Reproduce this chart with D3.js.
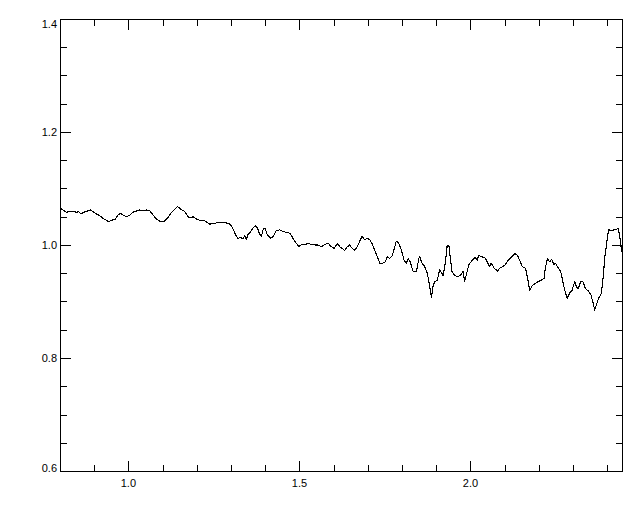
<!DOCTYPE html>
<html>
<head>
<meta charset="utf-8">
<script src="https://cdn.jsdelivr.net/npm/d3@7"></script>
<style>
  html, body { margin: 0; padding: 0; background: #fff; }
  svg { display: block; }
  text { font-family: "Liberation Sans", Arial, sans-serif; font-size: 11px; fill: #000; }
</style>
</head>
<body>
<script>
// ---- data ----
const xValues = [
  0.802,0.809,0.818,0.828,0.838,0.848,0.855,0.862,0.870,0.880,0.889,0.896,0.906,0.916,0.926,0.935,0.942,0.952,0.962,0.970,
  0.977,0.984,0.994,1.004,1.013,1.023,1.033,1.043,1.052,1.062,1.072,1.082,1.092,1.104,1.114,1.124,1.133,1.143,1.150,1.157,
  1.165,1.172,1.179,1.189,1.199,1.208,1.218,1.228,1.238,1.247,1.257,1.272,1.286,1.296,1.303,1.309,1.316,1.320,1.328,1.335,
  1.340,1.345,1.350,1.358,1.364,1.371,1.377,1.384,1.389,1.394,1.399,1.406,1.416,1.423,1.432,1.442,1.452,1.462,1.472,1.481,
  1.491,1.498,1.506,1.516,1.525,1.535,1.545,1.554,1.564,1.574,1.584,1.593,1.601,1.611,1.618,1.625,1.632,1.640,1.647,1.654,
  1.662,1.669,1.676,1.683,1.691,1.699,1.706,1.712,1.720,1.728,1.735,1.744,1.751,1.757,1.764,1.771,1.779,1.783,1.790,1.798,
  1.806,1.813,1.818,1.824,1.832,1.842,1.849,1.852,1.858,1.866,1.874,1.881,1.886,1.891,1.896,1.903,1.910,1.920,1.927,1.932,
  1.937,1.940,1.946,1.954,1.964,1.973,1.978,1.983,1.988,1.995,2.005,2.013,2.020,2.024,2.032,2.042,2.049,2.056,2.061,2.069,
  2.079,2.086,2.095,2.102,2.110,2.120,2.130,2.137,2.144,2.151,2.161,2.168,2.173,2.180,2.190,2.198,2.207,2.215,2.219,2.225,
  2.232,2.237,2.244,2.248,2.256,2.264,2.271,2.277,2.283,2.290,2.297,2.305,2.310,2.315,2.323,2.329,2.336,2.344,2.352,2.358,
  2.363,2.368,2.375,2.383,2.388,2.393,2.400,2.404,2.412,2.420,2.427,2.432,2.437,2.442
];
const yValues = [
  1.065,1.062,1.058,1.059,1.060,1.058,1.059,1.055,1.058,1.060,1.062,1.059,1.055,1.052,1.047,1.044,1.041,1.044,1.046,1.053,
  1.056,1.053,1.050,1.053,1.058,1.060,1.062,1.061,1.062,1.061,1.053,1.046,1.042,1.042,1.047,1.056,1.062,1.068,1.065,1.062,
  1.059,1.052,1.048,1.050,1.046,1.044,1.044,1.041,1.037,1.038,1.039,1.040,1.039,1.037,1.032,1.024,1.015,1.012,1.013,1.011,
  1.016,1.010,1.019,1.024,1.030,1.034,1.030,1.019,1.016,1.028,1.030,1.018,1.012,1.015,1.025,1.027,1.024,1.022,1.021,1.012,
  1.003,0.997,1.001,1.000,1.003,1.001,1.000,1.000,0.997,1.001,1.003,0.997,0.994,1.002,0.997,0.994,0.990,0.997,1.000,0.994,
  0.991,0.997,1.006,1.016,1.009,1.012,1.009,1.003,0.991,0.979,0.968,0.968,0.970,0.979,0.976,0.981,0.997,1.007,1.003,0.991,
  0.973,0.968,0.976,0.970,0.954,0.953,0.976,0.979,0.968,0.962,0.950,0.926,0.907,0.929,0.935,0.938,0.956,0.946,0.970,1.000,
  0.999,0.982,0.953,0.946,0.944,0.948,0.954,0.936,0.947,0.965,0.973,0.978,0.973,0.982,0.979,0.978,0.970,0.962,0.968,0.959,
  0.954,0.959,0.962,0.965,0.973,0.979,0.985,0.982,0.973,0.962,0.959,0.938,0.919,0.928,0.932,0.935,0.938,0.941,0.960,0.976,
  0.970,0.975,0.965,0.968,0.960,0.953,0.932,0.917,0.906,0.915,0.920,0.935,0.926,0.923,0.936,0.935,0.923,0.919,0.912,0.899,
  0.885,0.894,0.906,0.915,0.944,0.979,1.012,1.027,1.025,1.027,1.028,1.030,1.013,0.987
];
const xDomain = [0.8, 2.443];
const yDomain = [0.6, 1.4];
const xMajorTicks = [1.0, 1.5, 2.0];
const xTickLabels = ["1.0", "1.5", "2.0"];
const yMajorTicks = [0.6, 0.8, 1.0, 1.2, 1.4];
const yTickLabels = ["0.6", "0.8", "1.0", "1.2", "1.4"];
const xMinorStep = 0.1;
const yMinorStep = 0.05;

(function () {
  // ---- layout ----
  const W = 640, H = 512;
  const mLeft = 60, mRight = 622, mTop = 19, mBottom = 471;
  const majorLen = 10, minorLen = 6;

  const svg = d3.select("body").append("svg").attr("width", W).attr("height", H);

  const x = d3.scaleLinear().domain(xDomain).range([mLeft, mRight]);
  const y = d3.scaleLinear().domain(yDomain).range([mBottom, mTop]);

  const round = v => Math.round(v * 1000) / 1000;
  const xMinor = d3.range(Math.ceil(xDomain[0] / xMinorStep - 1e-9), Math.floor(xDomain[1] / xMinorStep + 1e-9) + 1)
    .map(i => round(i * xMinorStep)).filter(v => !xMajorTicks.some(m => Math.abs(m - v) < 1e-6));
  const yMinor = d3.range(Math.ceil(yDomain[0] / yMinorStep - 1e-9), Math.floor(yDomain[1] / yMinorStep + 1e-9) + 1)
    .map(i => round(i * yMinorStep)).filter(v => !yMajorTicks.some(m => Math.abs(m - v) < 1e-6));

  // frame
  svg.append("rect").attr("x", mLeft + 0.5).attr("y", mTop + 0.5)
    .attr("width", mRight - mLeft).attr("height", mBottom - mTop)
    .attr("fill", "none").attr("stroke", "#000").attr("stroke-width", 1)
    .attr("shape-rendering", "crispEdges");

  const ticks = svg.append("g").attr("stroke", "#000").attr("stroke-width", 1).attr("shape-rendering", "crispEdges");
  function xTick(v, len) {
    const px = Math.round(x(v)) + 0.5;
    ticks.append("line").attr("x1", px).attr("x2", px).attr("y1", mBottom).attr("y2", mBottom - len);
    ticks.append("line").attr("x1", px).attr("x2", px).attr("y1", mTop + 1).attr("y2", mTop + 1 + len);
  }
  function yTick(v, len) {
    const py = Math.round(y(v)) + 0.5;
    ticks.append("line").attr("x1", mLeft + 1).attr("x2", mLeft + 1 + len).attr("y1", py).attr("y2", py);
    ticks.append("line").attr("x1", mRight).attr("x2", mRight - len).attr("y1", py).attr("y2", py);
  }
  xMajorTicks.forEach(v => xTick(v, majorLen));
  xMinor.forEach(v => xTick(v, minorLen));
  yMajorTicks.forEach(v => yTick(v, majorLen));
  yMinor.forEach(v => yTick(v, minorLen));

  // labels
  svg.append("g").selectAll("text").data(xMajorTicks).join("text")
    .attr("x", d => x(d)).attr("y", mBottom + 16).attr("text-anchor", "middle")
    .text((d, i) => xTickLabels[i]);

  svg.append("g").selectAll("text").data(yMajorTicks).join("text")
    .attr("x", mLeft - 3).attr("text-anchor", "end")
    .attr("y", d => Math.max(mTop + 4.5, Math.min(mBottom - 3, y(d))) + 4)
    .text((d, i) => yTickLabels[i]);

  // line
  const data = xValues.map((xv, i) => [xv, yValues[i]]);
  const line = d3.line().x(d => x(d[0])).y(d => y(d[1]));
  svg.append("path").datum(data).attr("d", line)
    .attr("fill", "none").attr("stroke", "#000").attr("stroke-width", 1.1)
    .attr("stroke-linejoin", "round").attr("shape-rendering", "crispEdges");
})();
</script>
</body>
</html>
